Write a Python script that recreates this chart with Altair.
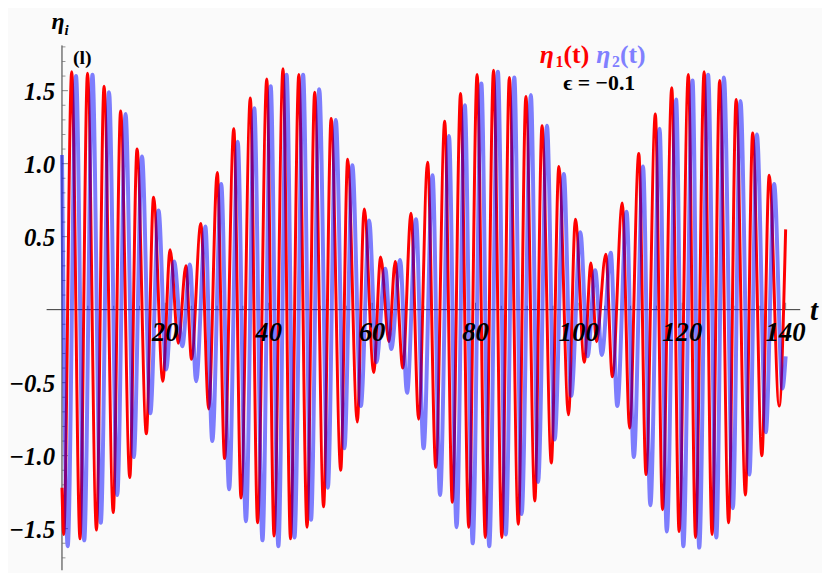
import altair as alt
import pandas as pd

# ---- series (extrema + end points) ----
red_t = [0.0, 0.34, 1.88, 3.49, 4.94, 6.67, 8.14, 9.92, 11.34, 13.12,
         14.52, 16.32, 17.72, 19.50, 20.92, 22.51, 23.98, 25.06, 26.86, 28.39,
         30.04, 31.46, 33.24, 34.64, 36.44, 37.84, 39.62, 41.03, 42.76, 44.21,
         45.82, 47.41, 48.89, 50.61, 52.07, 53.93, 55.27, 57.13, 58.47, 60.31,
         61.65, 63.26, 64.46, 65.94, 67.53, 69.00, 70.73, 72.32, 74.04, 75.52,
         77.11, 78.70, 80.31, 81.90, 83.49, 85.10, 86.55, 88.28, 89.75, 91.48,
         92.87, 94.67, 96.13, 97.99, 99.33, 101.05, 102.34, 103.41, 105.21, 106.48,
         108.39, 109.81, 111.59, 112.99, 114.79, 116.19, 117.97, 119.39, 121.17, 122.57,
         124.23, 125.77, 127.24, 128.97, 130.42, 132.22, 133.62, 135.40, 136.82, 138.74,
         140.0]
red_v = [-1.22, -1.54, 1.63, -1.57, 1.62, -1.51, 1.53, -1.39, 1.36, -1.15,
         1.10, -0.85, 0.77, -0.49, 0.41, -0.23, 0.30, -0.34, 0.59, -0.68,
         0.94, -1.02, 1.24, -1.29, 1.45, -1.46, 1.58, -1.55, 1.65, -1.57,
         1.61, -1.49, 1.49, -1.35, 1.31, -1.10, 1.03, -0.77, 0.69, -0.43,
         0.36, -0.22, 0.33, -0.40, 0.66, -0.75, 1.01, -1.08, 1.29, -1.32,
         1.48, -1.49, 1.61, -1.56, 1.64, -1.56, 1.59, -1.47, 1.46, -1.31,
         1.26, -1.05, 0.98, -0.72, 0.62, -0.36, 0.32, -0.22, 0.38, -0.46,
         0.73, -0.81, 1.07, -1.13, 1.34, -1.37, 1.52, -1.52, 1.61, -1.56,
         1.63, -1.54, 1.57, -1.46, 1.44, -1.27, 1.21, -1.00, 0.92, -0.66,
         0.55]

blue_t = [0.0, 1.11, 2.72, 4.31, 5.90, 7.51, 9.10, 10.69, 12.30, 13.89,
          15.48, 17.09, 18.68, 20.15, 21.69, 23.28, 24.75, 25.96, 27.74, 29.08,
          30.81, 32.34, 34.00, 35.59, 37.20, 38.79, 40.38, 41.86, 43.45, 44.98,
          46.65, 48.18, 49.77, 51.44, 52.97, 54.64, 56.17, 57.82, 59.43, 60.82,
          62.55, 63.70, 65.42, 66.76, 68.49, 69.96, 71.69, 73.14, 74.87, 76.34,
          77.93, 79.46, 81.13, 82.66, 84.33, 85.86, 87.51, 88.93, 90.71, 92.11,
          93.83, 95.31, 97.09, 98.51, 100.29, 101.69, 103.16, 104.44, 106.17, 107.43,
          109.23, 110.63, 112.41, 113.83, 115.61, 117.01, 118.81, 120.21, 121.99, 123.28,
          125.00, 126.59, 128.07, 129.79, 131.26, 132.99, 134.44, 136.17, 137.78, 139.37,
          140.0]
blue_v = [1.06, -1.62, 1.60, -1.58, 1.61, -1.46, 1.49, -1.27, 1.34, -1.01,
          1.05, -0.71, 0.68, -0.41, 0.33, -0.25, 0.31, -0.49, 0.57, -0.90,
          0.86, -1.23, 1.15, -1.45, 1.38, -1.58, 1.53, -1.62, 1.61, -1.56,
          1.61, -1.44, 1.51, -1.22, 1.30, -0.95, 0.99, -0.66, 0.61, -0.36,
          0.28, -0.27, 0.34, -0.57, 0.62, -0.95, 0.92, -1.27, 1.19, -1.49,
          1.40, -1.60, 1.55, -1.62, 1.63, -1.54, 1.59, -1.40, 1.47, -1.18,
          1.26, -0.89, 0.93, -0.59, 0.53, -0.32, 0.27, -0.31, 0.39, -0.66,
          0.67, -1.01, 0.98, -1.34, 1.24, -1.52, 1.44, -1.62, 1.57, -1.63,
          1.61, -1.56, 1.59, -1.36, 1.43, -1.13, 1.20, -0.84, 0.86, -0.54,
          -0.32]

# ---- axes ----
x_range = [-2.97, 142.82]
y_range = [-1.785, 1.81]
x_major = [20, 40, 60, 80, 100, 120, 140]
x_major_labels = ["20", "40", "60", "80", "100", "120", "140"]
x_minor = [5, 10, 15, 25, 30, 35, 45, 50, 55, 65, 70, 75, 85, 90, 95,
           105, 110, 115, 125, 130, 135]
y_major = [-1.5, -1.0, -0.5, 0.5, 1.0, 1.5]
y_major_labels = ["\u22121.5", "\u22121.0", "\u22120.5", "0.5", "1.0", "1.5"]
y_minor = [-1.7, -1.6, -1.4, -1.3, -1.2, -1.1, -0.9, -0.8, -0.7, -0.6,
           -0.4, -0.3, -0.2, -0.1, 0.1, 0.2, 0.3, 0.4, 0.6, 0.7, 0.8, 0.9,
           1.1, 1.2, 1.3, 1.4, 1.6, 1.7, 1.8]

SERIF = "Times New Roman, Liberation Serif, serif"
XS = alt.Scale(domain=x_range, nice=False, zero=False)
YS = alt.Scale(domain=y_range, nice=False, zero=False)


def X(field):
    return alt.X(field, type="quantitative", scale=XS, axis=None)


def Y(field):
    return alt.Y(field, type="quantitative", scale=YS, axis=None)


df_red = pd.DataFrame({"t": red_t, "v": red_v})
df_blue = pd.DataFrame({"t": blue_t, "v": blue_v})

red = alt.Chart(df_red).mark_line(
    color="#ff0000", strokeWidth=3, interpolate="monotone"
).encode(x=X("t"), y=Y("v"))
blue = alt.Chart(df_blue).mark_line(
    color="#0000ff", opacity=0.5, strokeWidth=4, interpolate="monotone"
).encode(x=X("t"), y=Y("v"))

df_hline = pd.DataFrame({"a": [x_range[0]], "b": [x_range[1]], "c": [0.0]})
df_vline = pd.DataFrame({"a": [0.0], "b": [y_range[0]], "c": [y_range[1]]})
x_axis_line = alt.Chart(df_hline).mark_rule(color="#333333", strokeWidth=1).encode(
    x=X("a"), x2="b:Q", y=Y("c")
)
y_axis_line = alt.Chart(df_vline).mark_rule(color="#333333", strokeWidth=1).encode(
    x=X("a"), y=Y("b"), y2="c:Q"
)

df_xmaj = pd.DataFrame({"t": x_major, "lab": x_major_labels, "z": 0.0})
df_xmin = pd.DataFrame({"t": x_minor, "z": 0.0})
df_ymaj = pd.DataFrame({"v": y_major, "lab": y_major_labels, "z": 0.0})
df_ymin = pd.DataFrame({"v": y_minor, "z": 0.0})

xt_major = alt.Chart(df_xmaj).mark_tick(
    orient="vertical", size=7, thickness=1, yOffset=-3.5, color="#555555"
).encode(x=X("t"), y=Y("z"))
xt_minor = alt.Chart(df_xmin).mark_tick(
    orient="vertical", size=4, thickness=1, yOffset=-2, color="#666666"
).encode(x=X("t"), y=Y("z"))
yt_major = alt.Chart(df_ymaj).mark_tick(
    orient="horizontal", size=6, thickness=1, xOffset=3, color="#555555"
).encode(x=X("z"), y=Y("v"))
yt_minor = alt.Chart(df_ymin).mark_tick(
    orient="horizontal", size=3.5, thickness=1, xOffset=1.75, color="#666666"
).encode(x=X("z"), y=Y("v"))

x_labels = alt.Chart(df_xmaj).mark_text(
    font=SERIF, fontSize=27, fontStyle="italic", fontWeight="bold",
    align="center", baseline="alphabetic", dy=32, color="black"
).encode(x=X("t"), y=Y("z"), text="lab:N")
y_labels = alt.Chart(df_ymaj).mark_text(
    font=SERIF, fontSize=25, fontStyle="italic", fontWeight="bold",
    align="right", baseline="alphabetic", dx=-7, dy=9, color="black"
).encode(x=X("z"), y=Y("v"), text="lab:N")


def note(txt, px, py, size, color="black", style="normal", align="left", weight="bold"):
    return alt.Chart(pd.DataFrame({"s": [txt]})).mark_text(
        font=SERIF, fontSize=size, fontStyle=style, fontWeight=weight,
        align=align, baseline="alphabetic", color=color
    ).encode(x=alt.value(px), y=alt.value(py), text="s:N")


notes = [
    note("\u03b7", 5, -17, 24, style="italic"),
    note("i", 18, -11, 15, style="italic"),
    note("t", 771, 277, 29, style="italic"),
    note("(l)", 36, 19, 20, align="center"),
    note("\u03b7", 498, 18, 26, color="#ff0000", style="italic"),
    note("1", 514, 22, 16, color="#ff0000"),
    note("(t)", 522, 18, 26, color="#ff0000"),
    note("\u03b7", 555, 18, 26, color="#8080ff", style="italic"),
    note("2", 571, 22, 16, color="#8080ff"),
    note("(t)", 579, 18, 26, color="#8080ff"),
    note("\u03f5 = \u22120.1", 558, 45, 22, align="center"),
]

chart = alt.layer(
    x_axis_line, y_axis_line, xt_major, xt_minor, yt_major, yt_minor,
    red, blue, x_labels, y_labels, *notes
).properties(
    width=761, height=530,
    padding={"left": 39, "top": 35, "right": 22, "bottom": 0},
    autosize=alt.AutoSizeParams(type="none"),
    background="#fafafa",
).configure_view(stroke=None)

chart.save("out.html", embed_options={"renderer": "svg", "actions": False})
